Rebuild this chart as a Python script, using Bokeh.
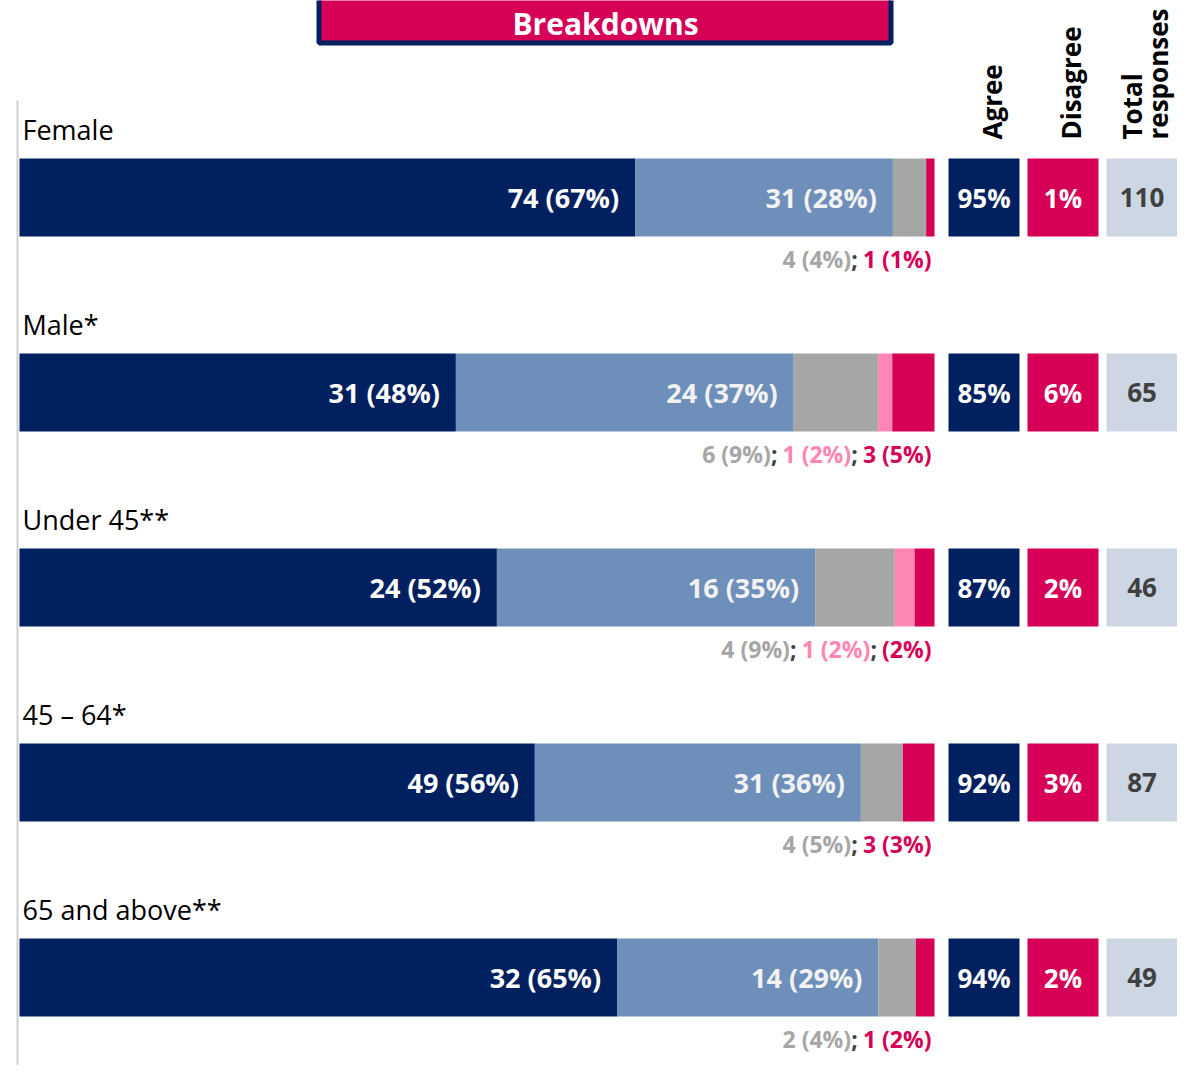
import math
from bokeh.plotting import figure
from bokeh.models import Range1d, ColumnDataSource
from bokeh.embed import file_html
from bokeh.resources import INLINE
from bokeh.core.properties import value

# ---------------- data ----------------
title = "Breakdowns"
groups = ["Female", "Male*", "Under 45**", "45 \u2013 64*", "65 and above**"]
strongly_agree = [74, 31, 24, 49, 32]
agree = [31, 24, 16, 31, 14]
neutral = [4, 6, 4, 4, 2]
disagree = [0, 1, 1, 0, 0]
strongly_disagree = [1, 3, 1, 3, 1]
strongly_agree_pct = [67, 48, 52, 56, 65]
agree_pct = [28, 37, 35, 36, 29]
neutral_pct = [4, 9, 9, 5, 4]
disagree_pct = [0, 2, 2, 0, 0]
strongly_disagree_pct = [1, 5, 2, 3, 2]
show_sd_count = [True, True, False, True, True]
net_agree = [95, 85, 87, 92, 94]
net_disagree = [1, 6, 2, 3, 2]
totals = [110, 65, 46, 87, 49]
header_agree = "Agree"
header_disagree = "Disagree"
header_total = ["Total", "responses"]

# ---------------- style ----------------
NAVY = "#002060"
LBLUE = "#6E8FB9"
GRAY = "#A6A6A6"
LPINK = "#FF85B4"
MAGENTA = "#D60057"
TOTALBG = "#CDD7E4"
DARK = "#404040"
FONT = "Open Sans"

# layout constants (pixel frame of the picture)
W, H = 1177, 1065
OX, OY = 0, 0
BAR_X0, BAR_W = 19, 915
ROW_Y0, ROW_H = 197, 195
BAR_H = 78


def X(px):
    return (px - BAR_X0) / BAR_W


def Y(py):
    return (py - ROW_Y0) / ROW_H


p = figure(width=W, height=H, output_backend="svg", toolbar_location=None,
           x_range=Range1d(X(OX), X(OX + W)), y_range=Range1d(Y(OY + H), Y(OY)),
           min_border=0, outline_line_color=None)
p.axis.visible = False
p.grid.visible = False
p.background_fill_color = "white"
p.border_fill_color = "white"

n = len(groups)
rows = list(range(n))
bh = BAR_H / ROW_H

# left guide line
p.segment(x0=[X(17)], x1=[X(17)], y0=[Y(100)], y1=[Y(1085)], line_color="#D0D0D0", line_width=2)

# title box
p.quad(left=[X(318.5)], right=[X(890.5)], top=[Y(-20)], bottom=[Y(42.5)],
       fill_color=MAGENTA, line_color=NAVY, line_width=5)
p.text(x=[X(605)], y=[Y(23)], text=[title], text_align="center", text_baseline="middle",
       text_font=value(FONT), text_font_style="bold", text_font_size="30px", text_color="white")

# stacked bars
series = [strongly_agree, agree, neutral, disagree, strongly_disagree]
colors = [NAVY, LBLUE, GRAY, LPINK, MAGENTA]
cum = [0.0] * n
ends = []
for vals, col in zip(series, colors):
    left = [cum[i] / totals[i] for i in rows]
    right = [(cum[i] + vals[i]) / totals[i] for i in rows]
    src = ColumnDataSource(dict(y=rows, left=left, right=right))
    p.hbar(y="y", left="left", right="right", height=bh, source=src,
           fill_color=col, line_color=None)
    cum = [cum[i] + vals[i] for i in rows]
    ends.append(right)

# segment labels
for k, (vals, pcts, tc) in enumerate([(strongly_agree, strongly_agree_pct, "white"),
                                      (agree, agree_pct, "#F2F2F2")]):
    src = ColumnDataSource(dict(x=ends[k], y=rows,
                                t=[f"{vals[i]} ({pcts[i]}%)" for i in rows]))
    p.text(x="x", y="y", text="t", source=src, x_offset=-16, text_align="right",
           text_baseline="middle", text_font=value(FONT), text_font_style="bold",
           text_font_size="27px", text_color=tc)

# row labels
p.text(x=[X(22)] * n, y=[i + Y(ROW_Y0 - 68) for i in rows], text=groups, text_align="left",
       text_baseline="middle", text_font=value(FONT), text_font_size="27px", text_color="black")

# annotations under bars (multi-colour), built right-to-left
CW = {" ": 0.26, "(": 0.33, ")": 0.33, "%": 0.88, ";": 0.29}
ANN_SIZE = 23


def tw(s):
    return sum(CW.get(c, 0.572) for c in s) * ANN_SIZE


ax, ay, at, ac, ao = [], [], [], [], []
for i in rows:
    pieces = [(f"{neutral[i]} ({neutral_pct[i]}%)", GRAY)]
    if disagree[i] > 0:
        pieces += [("; ", DARK), (f"{disagree[i]} ({disagree_pct[i]}%)", LPINK)]
    sd = f"{strongly_disagree[i]} ({strongly_disagree_pct[i]}%)" if show_sd_count[i] else f"({strongly_disagree_pct[i]}%)"
    pieces += [("; ", DARK), (sd, MAGENTA)]
    off = 0.0
    for txt, col in reversed(pieces):
        ax.append(X(931))
        ay.append(i + Y(ROW_Y0 + 61))
        at.append(txt)
        ac.append(col)
        ao.append(-off)
        off += tw(txt)
src = ColumnDataSource(dict(x=ax, y=ay, t=at, c=ac, o=ao))
p.text(x="x", y="y", text="t", text_color="c", x_offset="o", source=src, text_align="right",
       text_baseline="middle", text_font=value(FONT), text_font_style="bold",
       text_font_size=f"{ANN_SIZE}px")

# right-hand summary boxes
box_left = [948, 1027, 1106]
box_w = 71
box_fill = [NAVY, MAGENTA, TOTALBG]
box_txt_col = ["white", "white", DARK]
box_texts = [[f"{v}%" for v in net_agree], [f"{v}%" for v in net_disagree], [str(v) for v in totals]]
for bl, fc, tcol, txts in zip(box_left, box_fill, box_txt_col, box_texts):
    src = ColumnDataSource(dict(y=rows, l=[X(bl)] * n, r=[X(bl + box_w)] * n,
                                x=[X(bl + box_w / 2)] * n, t=txts))
    p.hbar(y="y", left="l", right="r", height=bh, source=src, fill_color=fc, line_color=None)
    p.text(x="x", y="y", text="t", source=src, text_align="center", text_baseline="middle",
           text_font=value(FONT), text_font_style="bold", text_font_size="26px", text_color=tcol)

# rotated headers
hx = [box_left[0] + box_w / 2 + 8, box_left[1] + box_w / 2 + 8,
      box_left[2] + box_w / 2 - 10, box_left[2] + box_w / 2 + 16]
htxt = [header_agree, header_disagree] + header_total
p.text(x=[X(v) for v in hx], y=[Y(139)] * 4, text=htxt, angle=math.pi / 2,
       text_align="left", text_baseline="alphabetic", text_font=value(FONT),
       text_font_style="bold", text_font_size="26px", text_color="black")

open("out.html", "w").write(file_html(p, INLINE))
